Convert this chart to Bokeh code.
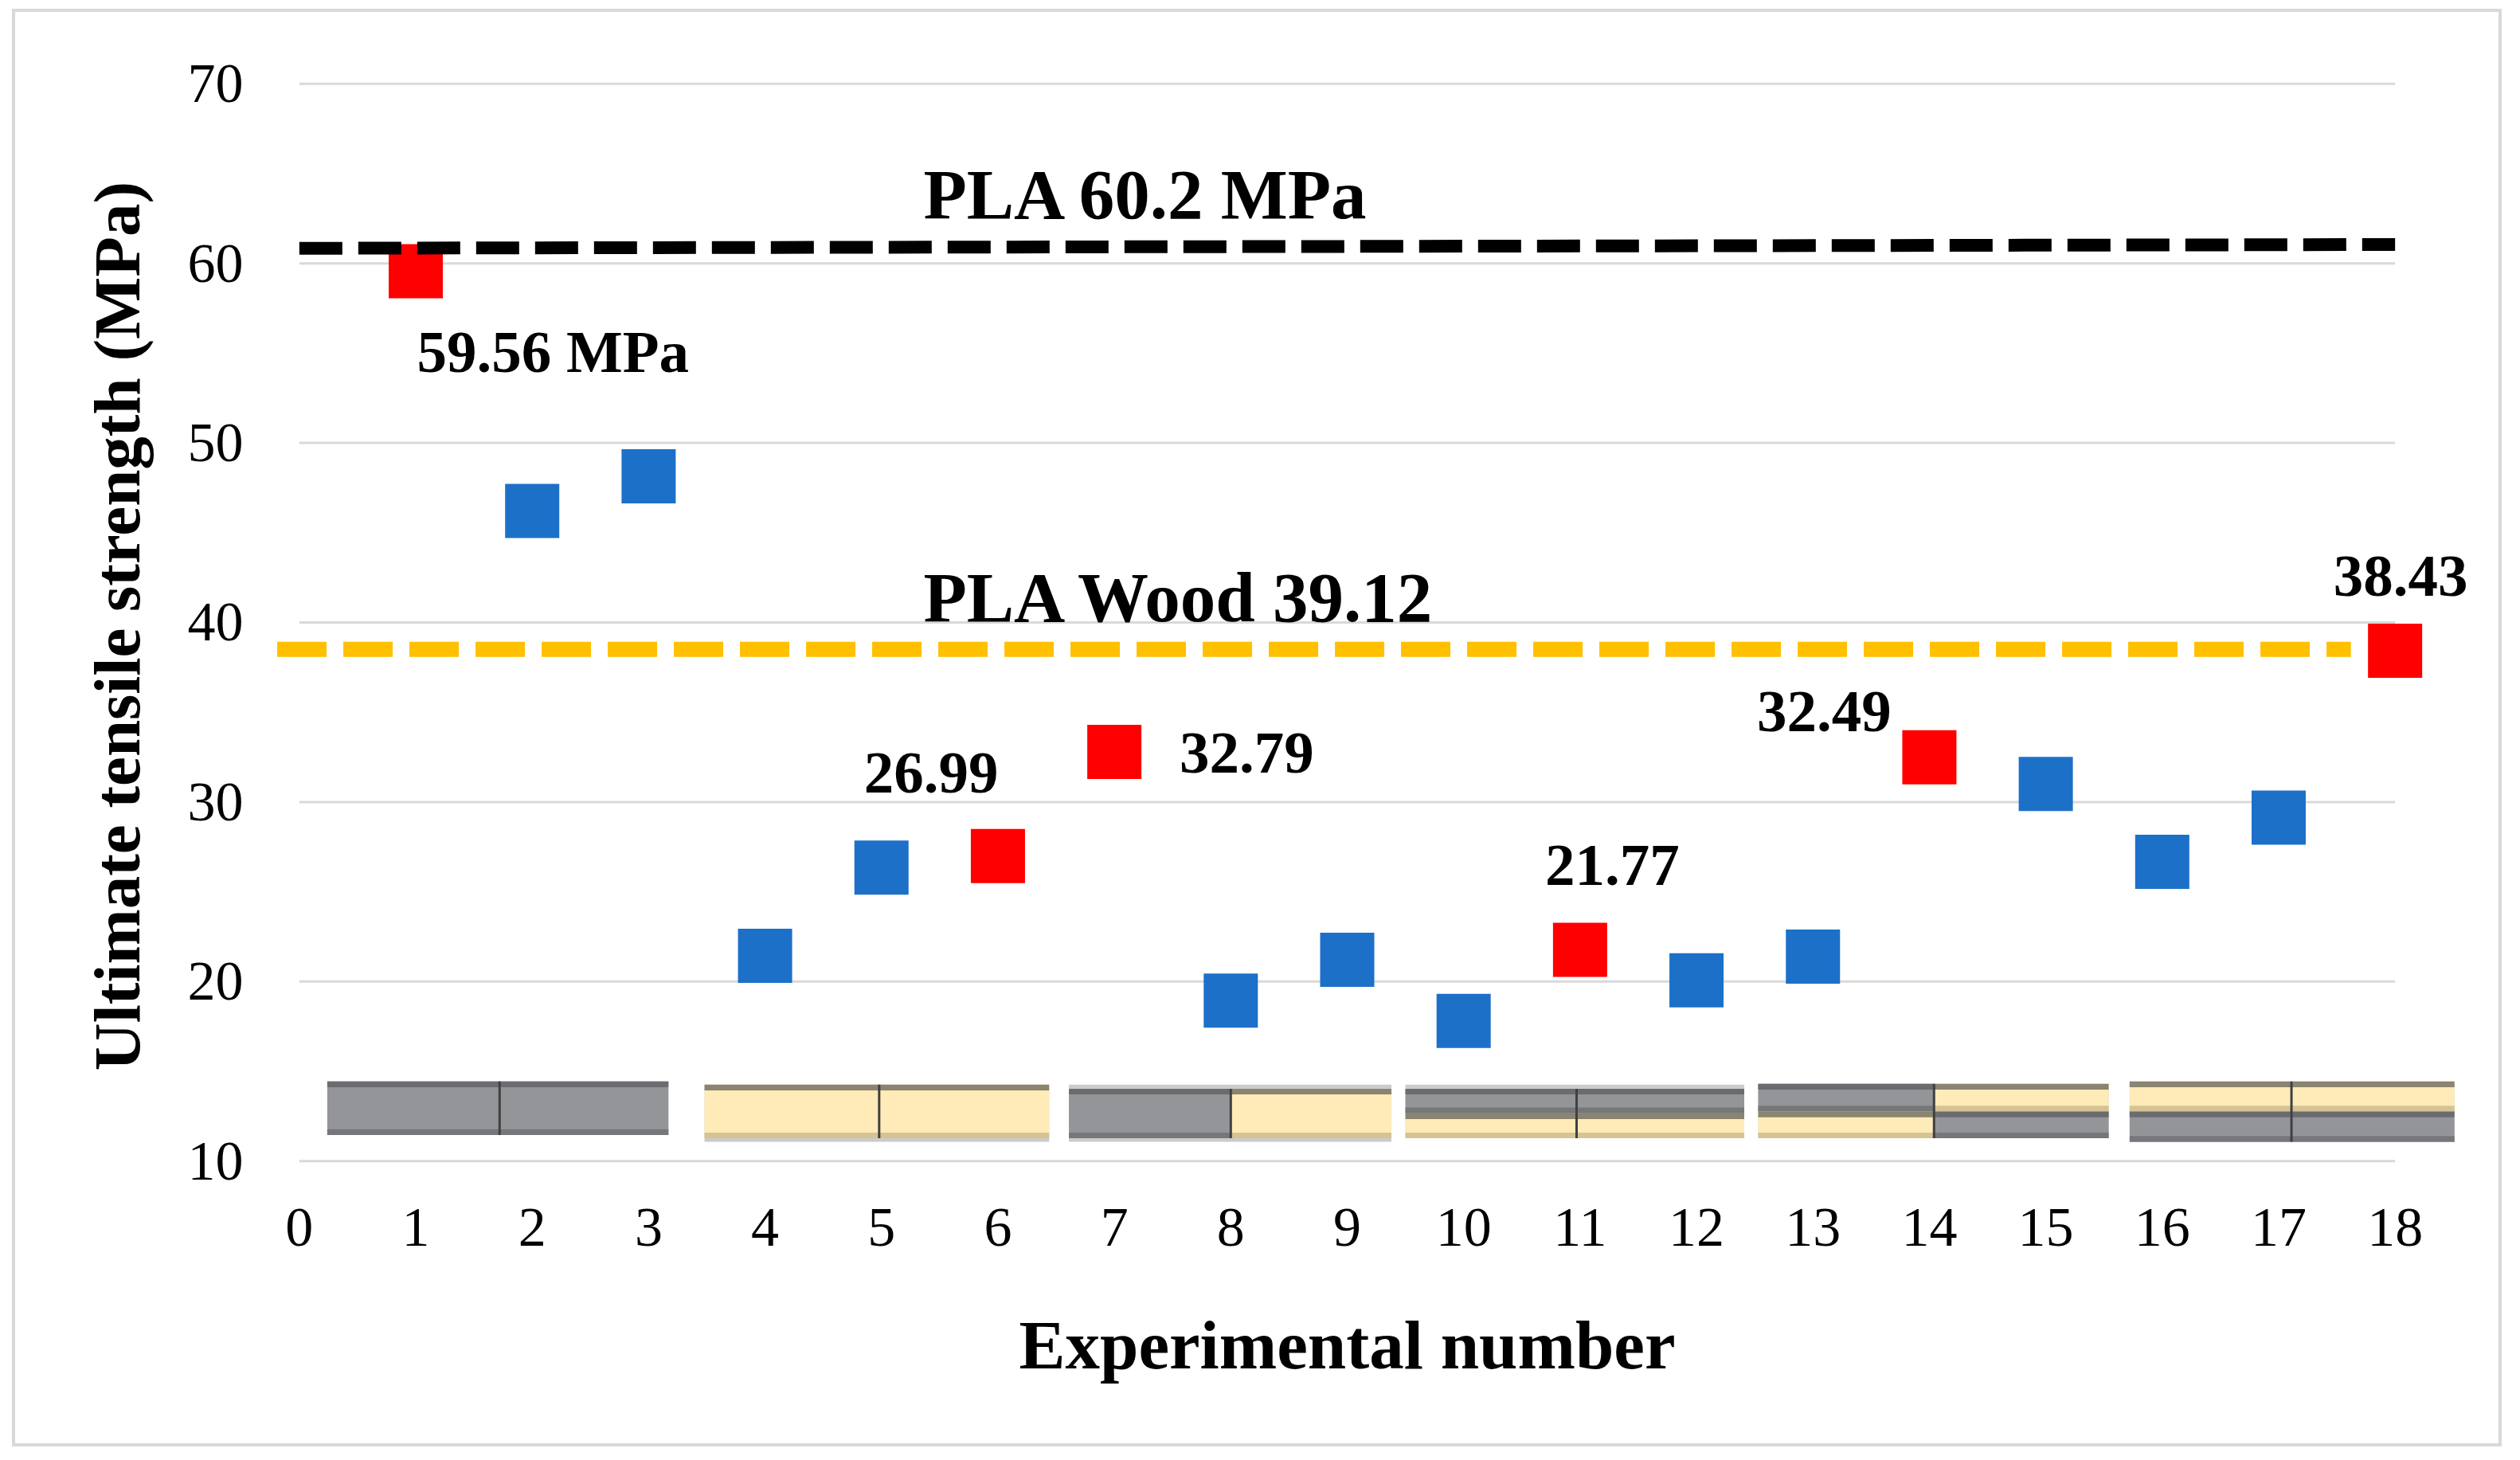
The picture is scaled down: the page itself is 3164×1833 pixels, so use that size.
from bokeh.plotting import figure
from bokeh.models import ColumnDataSource, LabelSet, FixedTicker, Range1d
from bokeh.embed import file_html
from bokeh.resources import INLINE

# ---------------- data ----------------
exp_no = list(range(1, 19))
uts = [59.56, 46.21, 48.14, 21.43, 26.35, 26.99, 32.79, 18.94, 21.21,
       17.81, 21.77, 20.07, 21.39, 32.49, 31.01, 26.67, 29.13, 38.43]
highlight = [1, 6, 7, 11, 14, 18]

x_ticks = list(range(0, 19))
y_ticks = [10, 20, 30, 40, 50, 60, 70]
x_min, x_max = 0, 18

pla_x = [0, 18]
pla_y = [60.84, 61.05]
wood_x = [-0.19, 17.62]
wood_y = [38.5, 38.5]

ref_text = ["PLA 60.2 MPa", "PLA Wood 39.12"]
ref_x = [5.36, 5.36]
ref_y = [62.5, 40.08]

lab_text = ["59.56 MPa", "26.99", "32.79", "21.77", "32.49", "38.43"]
lab_x = [1.01, 4.85, 7.56, 10.70, 12.52, 17.47]
lab_y = [53.93, 30.55, 31.63, 25.38, 33.93, 41.5]

# specimen layer sketches (one per group of three experiments)
grp_x0 = [0.24, 3.48, 6.61, 9.50, 12.53, 15.72]
grp_xd = [1.72, 4.98, 8.00, 10.97, 14.04, 17.11]
grp_x1 = [3.17, 6.44, 9.38, 12.41, 15.54, 18.51]
grp_y0 = [11.45, 11.27, 11.27, 11.27, 11.27, 11.08]
grp_y1 = [14.43, 14.26, 14.03, 14.03, 14.30, 14.43]
grp_split = [12.9, 12.9, 12.9, 12.66, 12.76, 12.76]
grp_sh_y0 = [11.45, 11.08, 11.08, 11.27, 11.27, 11.08]
grp_sh_y1 = [14.43, 14.26, 14.26, 14.26, 14.30, 14.43]
# (left-top, left-bottom, right-top, right-bottom): g = grey, y = yellow
grp_layers = ["gggg", "yyyy", "ggyy", "gygy", "gyyg", "ygyg"]

# ---------------- styles ----------------
FONT = "Liberation Serif"
RED = "#FF0000"
BLUE = "#1C70C8"
GOLD = "#FFC000"
GRID = "#D9D9D9"
fill_of = {"g": "#939598", "y": "#FFEBB8"}
top_strip = {"g": "#6A6C6F", "y": "#8A8470"}
bot_strip = {"g": "#75777A", "y": "#D6C394"}

p = figure(width=3118, height=1797,
           x_range=Range1d(-0.7, 18.7), y_range=Range1d(9.3, 70.3),
           output_backend="svg", toolbar_location=None,
           min_border_left=254, min_border_right=36,
           min_border_top=83, min_border_bottom=347)
p.styles = {"border": "4px solid #D9D9D9", "box-sizing": "content-box",
            "margin-left": "15px", "margin-top": "11px"}
p.outline_line_color = None
p.background_fill_color = "white"
p.border_fill_color = "white"
p.xgrid.visible = False
p.ygrid.visible = False

for ax in (p.xaxis[0], p.yaxis[0]):
    ax.axis_line_color = None
    ax.major_tick_line_color = None
    ax.minor_tick_line_color = None
    ax.major_label_text_font = FONT
    ax.major_label_text_font_size = "70px"
    ax.major_label_text_color = "black"
    ax.axis_label_text_font = FONT
    ax.axis_label_text_font_style = "bold"
    ax.axis_label_text_color = "black"

p.xaxis.ticker = FixedTicker(ticks=x_ticks)
p.yaxis.ticker = FixedTicker(ticks=y_ticks)
p.xaxis.major_label_standoff = 38
p.yaxis.major_label_standoff = -38
p.xaxis.axis_label = "Experimental number"
p.yaxis.axis_label = "Ultimate tensile strength (MPa)"
p.xaxis.axis_label_text_font_size = "87px"
p.yaxis.axis_label_text_font_size = "83px"
p.xaxis.axis_label_standoff = 73
p.yaxis.axis_label_standoff = 40

# ---- horizontal gridlines, spanning experiments 0..18 only ----
p.segment(x0=[x_min] * len(y_ticks), x1=[x_max] * len(y_ticks),
          y0=y_ticks, y1=y_ticks, line_color=GRID, line_width=3)

# ---- specimen sketches ----
sh = dict(l=[], r=[], b=[], t=[])
cells = dict(l=[], r=[], b=[], t=[], c=[])
strips = dict(l=[], r=[], b=[], t=[], c=[])
div = dict(x0=[], x1=[], y0=[], y1=[])
S = 0.32
for i in range(len(grp_x0)):
    sh["l"].append(grp_x0[i]); sh["r"].append(grp_x1[i])
    sh["b"].append(grp_sh_y0[i]); sh["t"].append(grp_sh_y1[i])
    lay = grp_layers[i]
    for (xa, xb, top, bot) in ((grp_x0[i], grp_xd[i], lay[0], lay[1]),
                               (grp_xd[i], grp_x1[i], lay[2], lay[3])):
        if top == bot:
            parts = [(grp_y0[i], grp_y1[i], top)]
        else:
            parts = [(grp_split[i], grp_y1[i], top), (grp_y0[i], grp_split[i], bot)]
        for (ya, yb, k) in parts:
            cells["l"].append(xa); cells["r"].append(xb)
            cells["b"].append(ya); cells["t"].append(yb); cells["c"].append(fill_of[k])
            strips["l"] += [xa, xa]; strips["r"] += [xb, xb]
            strips["b"] += [yb - S, ya]; strips["t"] += [yb, ya + S]
            strips["c"] += [top_strip[k], bot_strip[k]]
    div["x0"].append(grp_xd[i]); div["x1"].append(grp_xd[i])
    div["y0"].append(grp_y0[i]); div["y1"].append(grp_y1[i])

p.quad(left=sh["l"], right=sh["r"], bottom=sh["b"], top=sh["t"],
       fill_color="#CBCBCB", line_color=None)
p.quad(source=ColumnDataSource(cells), left="l", right="r", bottom="b", top="t",
       fill_color="c", line_color=None)
p.quad(source=ColumnDataSource(strips), left="l", right="r", bottom="b", top="t",
       fill_color="c", line_color=None)
p.segment(x0=div["x0"], x1=div["x1"], y0=div["y0"], y1=div["y1"],
          line_color="#3F4042", line_width=3)

# ---- data markers ----
colors = [RED if n in highlight else BLUE for n in exp_no]
p.scatter(x=exp_no, y=uts, marker="square", size=68,
          fill_color=colors, line_color=None)

# ---- reference lines ----
p.line(pla_x, pla_y, line_color="black", line_width=16, line_dash="54 20")
p.line(wood_x, wood_y, line_color=GOLD, line_width=19, line_dash="62 21")

# ---- texts ----
p.add_layout(LabelSet(source=ColumnDataSource(dict(x=ref_x, y=ref_y, t=ref_text)),
                      x="x", y="y", text="t", text_font=FONT,
                      text_font_style="bold", text_font_size="89px",
                      text_color="black", text_align="left",
                      text_baseline="alphabetic"))
p.add_layout(LabelSet(source=ColumnDataSource(dict(x=lab_x, y=lab_y, t=lab_text)),
                      x="x", y="y", text="t", text_font=FONT,
                      text_font_style="bold", text_font_size="75px",
                      text_color="black", text_align="left",
                      text_baseline="alphabetic"))

open("out.html", "w").write(file_html(p, INLINE))
